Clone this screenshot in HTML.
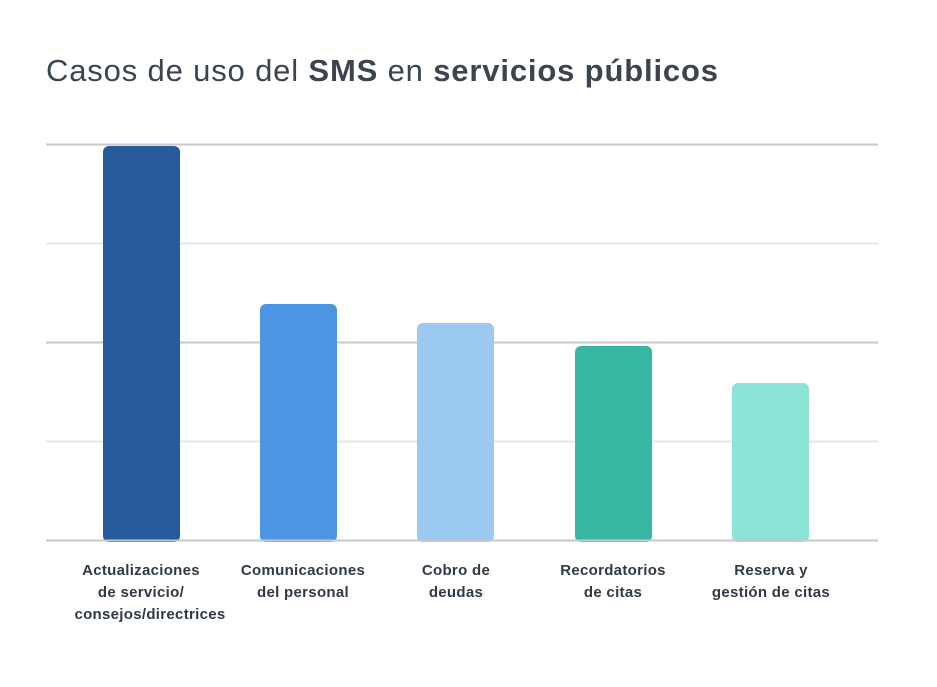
<!DOCTYPE html>
<html><head><meta charset="utf-8"><style>
body{margin:0;background:#fff;width:937px;height:682px;overflow:hidden;font-family:"Liberation Sans",sans-serif;}
</style></head><body>
<svg width="937" height="682" xmlns="http://www.w3.org/2000/svg">
<text x="46" y="81" font-family="Liberation Sans, sans-serif" font-size="31" fill="#3b4550" textLength="672" lengthAdjust="spacing">Casos de uso del <tspan font-weight="bold">SMS</tspan> en <tspan font-weight="bold">servicios públicos</tspan></text>
<line x1="46" x2="878" y1="144.5" y2="144.5" stroke="#c8c8c8" stroke-width="2"/>
<line x1="46" x2="878" y1="243.5" y2="243.5" stroke="#e6e6e6" stroke-width="2"/>
<line x1="46" x2="878" y1="342.5" y2="342.5" stroke="#c8c8c8" stroke-width="2"/>
<line x1="46" x2="878" y1="441.5" y2="441.5" stroke="#e6e6e6" stroke-width="2"/>
<rect x="103" y="146" width="77" height="396" rx="6" fill="#265c9c"/>
<rect x="260" y="304" width="77" height="238" rx="6" fill="#4c95e2"/>
<rect x="417" y="323" width="77" height="219" rx="6" fill="#9bc9f2"/>
<rect x="575" y="346" width="77" height="196" rx="6" fill="#38b7a2"/>
<rect x="732" y="383" width="77" height="159" rx="6" fill="#8ce4d6"/>
<line x1="46" x2="878" y1="540.5" y2="540.5" stroke="#c8c8c8" stroke-width="2"/>
<g font-family="Liberation Sans, sans-serif" font-size="15" font-weight="bold" fill="#2f3a45" text-anchor="middle" letter-spacing="0.3">
<text x="141" y="575">Actualizaciones</text><text x="141" y="597">de servicio/</text><text x="150" y="619">consejos/directrices</text>
<text x="303" y="575">Comunicaciones</text><text x="303" y="597">del personal</text>
<text x="456" y="575">Cobro de</text><text x="456" y="597">deudas</text>
<text x="613" y="575">Recordatorios</text><text x="613" y="597">de citas</text>
<text x="771" y="575">Reserva y</text><text x="771" y="597">gestión de citas</text>
</g>
</svg>
</body></html>
